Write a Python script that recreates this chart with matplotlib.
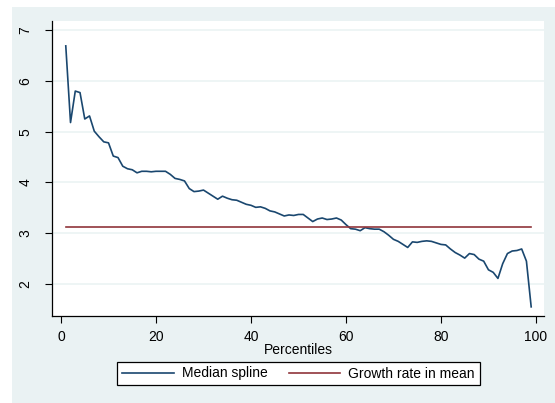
import matplotlib.pyplot as plt
import numpy as np
from matplotlib.patches import Rectangle

# data
percentiles = list(range(1, 100))
median_spline = [
    6.69, 5.18, 5.80, 5.77, 5.25, 5.31, 5.01, 4.90, 4.80, 4.78,
    4.52, 4.49, 4.32, 4.27, 4.25, 4.19, 4.22, 4.22, 4.21, 4.22,
    4.22, 4.22, 4.16, 4.08, 4.06, 4.03, 3.88, 3.82, 3.83, 3.85,
    3.79, 3.73, 3.67, 3.73, 3.69, 3.66, 3.65, 3.61, 3.57, 3.55,
    3.51, 3.52, 3.49, 3.44, 3.42, 3.38, 3.34, 3.36, 3.35, 3.37,
    3.37, 3.30, 3.23, 3.28, 3.30, 3.27, 3.28, 3.30, 3.26, 3.17,
    3.09, 3.08, 3.05, 3.11, 3.09, 3.08, 3.08, 3.03, 2.96, 2.88,
    2.84, 2.78, 2.72, 2.83, 2.82, 2.84, 2.85, 2.84, 2.81, 2.78,
    2.77, 2.69, 2.62, 2.57, 2.51, 2.60, 2.58, 2.49, 2.45, 2.28,
    2.23, 2.11, 2.40, 2.60, 2.65, 2.66, 2.69, 2.45, 1.55,
]
growth_in_mean = 3.13
xticks = [0, 20, 40, 60, 80, 100]
yticks = [2, 3, 4, 5, 6, 7]

# colours (Stata s2color look)
bg = '#EAF2F3'
navy = '#1A476F'
maroon = '#90353B'

plt.rcParams['font.family'] = ['Liberation Sans', 'DejaVu Sans']
fs = 10

W, H = 555, 403
fig = plt.figure(figsize=(W / 100, H / 100), dpi=100, facecolor='white')

# graph region (the picture is cropped, white strip on top and left)
fig.patches.append(Rectangle((12 / W, 0), 1, 1 - 7 / H, transform=fig.transFigure,
                             facecolor=bg, edgecolor='none', zorder=-10))

ax = fig.add_axes([52 / W, (H - 316) / H, (544 - 52) / W, (316 - 21) / H])
ax.set_facecolor('white')

ax.plot(percentiles, median_spline, color=navy, lw=1.2, label='Median spline',
        solid_joinstyle='round')
ax.plot(percentiles, [growth_in_mean] * len(percentiles), color=maroon, lw=1.2,
        label='Growth rate in mean')

ax.set_xlim(-1.9, 101.7)
ax.set_ylim(1.37, 7.18)
ax.set_xticks(xticks)
ax.set_yticks(yticks)
ax.set_yticklabels([str(v) for v in yticks], rotation=90, va='center')
ax.tick_params(axis='both', labelsize=fs, length=5, width=0.8, color='black')
ax.tick_params(axis='x', pad=5)
ax.tick_params(axis='y', pad=9)

ax.grid(axis='y', color=bg, lw=1.1)
ax.set_axisbelow(True)
for s in ['top', 'right']:
    ax.spines[s].set_visible(False)
for s in ['left', 'bottom']:
    ax.spines[s].set_linewidth(0.9)

ax.set_xlabel('Percentiles', fontsize=fs, labelpad=-1)

leg = ax.legend(loc='center', bbox_to_anchor=(298.5 / W, (H - 373.5) / H),
                bbox_transform=fig.transFigure, ncol=2, frameon=True,
                fancybox=False, edgecolor='black', framealpha=1, fontsize=fs,
                handlelength=3.7, columnspacing=1.5, handletextpad=0.6,
                borderpad=0.35, borderaxespad=0)
leg.get_frame().set_linewidth(0.9)

fig.savefig('out.png', dpi=100, facecolor='white')
